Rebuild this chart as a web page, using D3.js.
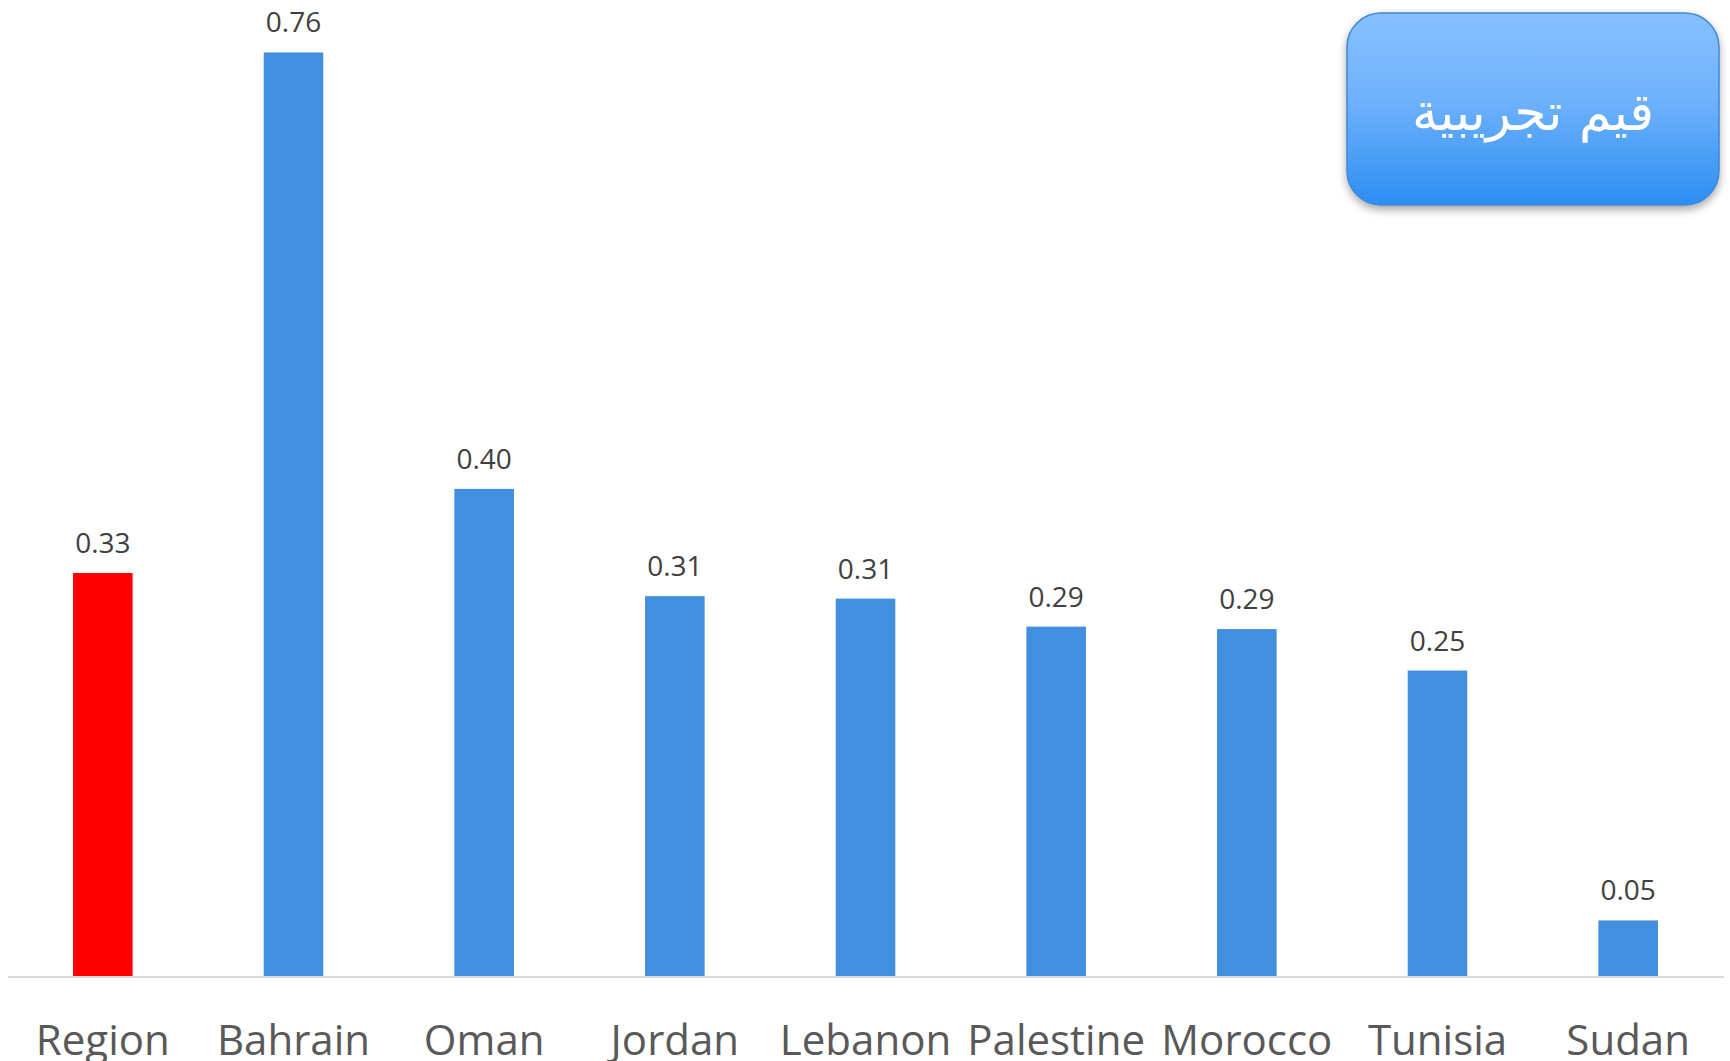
<!DOCTYPE html>
<html>
<head>
<meta charset="utf-8">
<script src="https://cdn.jsdelivr.net/npm/d3@7"></script>
<style>
  body { margin: 0; background: #fff; }
</style>
</head>
<body>
<div class="canvas"></div>
<script>
// data
const countries = ['Region', 'Bahrain', 'Oman', 'Jordan', 'Lebanon', 'Palestine', 'Morocco', 'Tunisia', 'Sudan'];
const values = [0.331, 0.758, 0.400, 0.312, 0.310, 0.287, 0.285, 0.251, 0.046];
const valueLabels = ['0.33', '0.76', '0.40', '0.31', '0.31', '0.29', '0.29', '0.25', '0.05'];
const highlight = ['Region'];
const badgeText = 'قيم تجريبية';

// sizes
const width = 1730, height = 1061;
const baseY = 976.5;

const svg = d3.select('.canvas').append('svg')
    .attr('width', width)
    .attr('height', height);

// scales
const x = d3.scaleBand()
    .domain(countries)
    .range([7.5, 1723.5])
    .paddingInner(0.6875)
    .paddingOuter(0.34375);
const y = d3.scaleLinear()
    .domain([0, 0.8])
    .range([baseY, baseY - 0.8 * 1219]);

// bars
svg.append('g').selectAll('rect')
    .data(countries)
    .join('rect')
    .attr('x', d => x(d))
    .attr('y', (d, i) => y(values[i]))
    .attr('width', x.bandwidth())
    .attr('height', (d, i) => y(0) - y(values[i]))
    .attr('fill', d => highlight.includes(d) ? '#ff0000' : '#418fde');

// value labels
svg.append('g').selectAll('text')
    .data(countries)
    .join('text')
    .attr('x', d => x(d) + x.bandwidth() / 2)
    .attr('y', (d, i) => y(values[i]) - 20)
    .attr('text-anchor', 'middle')
    .attr('font-family', '"Open Sans", sans-serif')
    .attr('font-size', 28)
    .attr('fill', '#404040')
    .text((d, i) => valueLabels[i]);

// x axis (labels run off the bottom edge like the original)
const xAxis = d3.axisBottom(x).tickSize(0).tickPadding(49);
const xAxisGroup = svg.append('g')
    .attr('transform', `translate(0, ${baseY})`)
    .call(xAxis);
xAxisGroup.select('.domain')
    .attr('stroke', '#d9d9d9')
    .attr('stroke-width', 2);
xAxisGroup.selectAll('text')
    .attr('font-family', '"Open Sans", sans-serif')
    .attr('font-size', 42)
    .attr('fill', '#595959');

// badge top right
const defs = svg.append('defs');
const grad = defs.append('linearGradient')
    .attr('id', 'badgeGrad')
    .attr('x1', 0).attr('y1', 0).attr('x2', 0).attr('y2', 1);
grad.append('stop').attr('offset', '0%').attr('stop-color', '#86c0ff');
grad.append('stop').attr('offset', '45%').attr('stop-color', '#6fb2fc');
grad.append('stop').attr('offset', '100%').attr('stop-color', '#2c8ef3');
const shadow = defs.append('filter')
    .attr('id', 'badgeShadow')
    .attr('x', '-10%').attr('y', '-10%').attr('width', '120%').attr('height', '130%');
shadow.append('feDropShadow')
    .attr('dx', 0).attr('dy', 4).attr('stdDeviation', 4)
    .attr('flood-color', '#000').attr('flood-opacity', 0.35);

const badge = svg.append('g');
badge.append('rect')
    .attr('x', 1347).attr('y', 13)
    .attr('width', 372).attr('height', 192)
    .attr('rx', 34).attr('ry', 34)
    .attr('fill', 'url(#badgeGrad)')
    .attr('stroke', '#3f86d4')
    .attr('stroke-width', 1.5)
    .attr('filter', 'url(#badgeShadow)');
badge.append('text')
    .attr('x', 1533).attr('y', 130)
    .attr('text-anchor', 'middle')
    .attr('direction', 'rtl')
    .attr('font-family', '"DejaVu Sans", sans-serif')
    .attr('font-size', 52)
    .attr('fill', '#fff')
    .text(badgeText);
</script>
</body>
</html>
